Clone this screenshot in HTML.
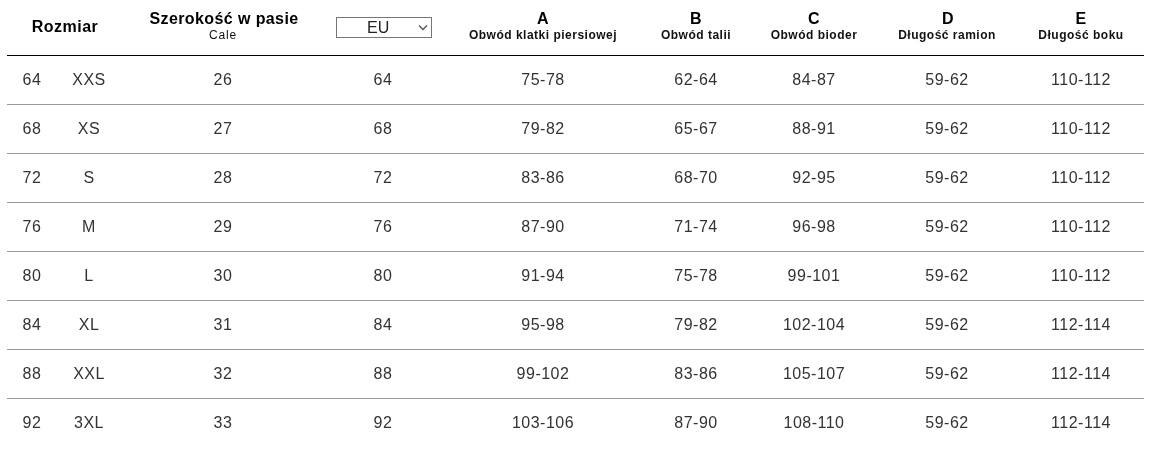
<!DOCTYPE html>
<html><head><meta charset="utf-8"><style>
html,body{margin:0;padding:0;background:#fff;width:1159px;height:452px;overflow:hidden;font-family:"Liberation Sans",sans-serif;}
#w{position:absolute;left:0;top:0;width:1159px;height:452px;will-change:transform;}
.c{position:absolute;width:200px;margin-left:-100px;text-align:center;white-space:nowrap;}
.v{font-size:16px;color:#333;line-height:18px;letter-spacing:0.5px;}
.hl{position:absolute;left:7px;width:1137px;height:1px;background:#999;}
.h{font-weight:bold;color:#000;}
.big{font-size:16px;line-height:18px;letter-spacing:0.5px;}
.sm{font-size:12px;line-height:14px;letter-spacing:0.5px;color:#111;}
.sel{position:absolute;left:336px;top:17px;width:94px;height:19px;border:1px solid #767676;font-size:16px;color:#222;}
</style></head><body><div id="w">

<div class="c h big" style="left:65px;top:18px">Rozmiar</div>
<div class="c h big" style="left:224px;top:10px;letter-spacing:0.4px">Szerokość w pasie</div>
<div class="c sm" style="left:223px;top:28px;letter-spacing:0.8px">Cale</div>
<div class="sel"><span style="position:absolute;left:30px;top:1px;line-height:18px">EU</span><svg style="position:absolute;left:81px;top:6px" width="10" height="7" viewBox="0 0 10 7"><path d="M1 1.5 L5 5.5 L9 1.5" fill="none" stroke="#555" stroke-width="1.4"/></svg></div>
<div class="c h big" style="left:543px;top:10px">A</div>
<div class="c h sm" style="left:543px;top:28px">Obwód klatki piersiowej</div>
<div class="c h big" style="left:696px;top:10px">B</div>
<div class="c h sm" style="left:696px;top:28px">Obwód talii</div>
<div class="c h big" style="left:814px;top:10px">C</div>
<div class="c h sm" style="left:814px;top:28px">Obwód bioder</div>
<div class="c h big" style="left:948px;top:10px">D</div>
<div class="c h sm" style="left:947px;top:28px">Długość ramion</div>
<div class="c h big" style="left:1081px;top:10px">E</div>
<div class="c h sm" style="left:1081px;top:28px">Długość boku</div>
<div class="hl" style="top:55px;background:#000"></div>
<div class="c v" style="left:32px;top:71px">64</div>
<div class="c v" style="left:89px;top:71px">XXS</div>
<div class="c v" style="left:223px;top:71px">26</div>
<div class="c v" style="left:383px;top:71px">64</div>
<div class="c v" style="left:543px;top:71px">75-78</div>
<div class="c v" style="left:696px;top:71px">62-64</div>
<div class="c v" style="left:814px;top:71px">84-87</div>
<div class="c v" style="left:947px;top:71px">59-62</div>
<div class="c v" style="left:1081px;top:71px">110-112</div>
<div class="hl" style="top:104px"></div>
<div class="c v" style="left:32px;top:120px">68</div>
<div class="c v" style="left:89px;top:120px">XS</div>
<div class="c v" style="left:223px;top:120px">27</div>
<div class="c v" style="left:383px;top:120px">68</div>
<div class="c v" style="left:543px;top:120px">79-82</div>
<div class="c v" style="left:696px;top:120px">65-67</div>
<div class="c v" style="left:814px;top:120px">88-91</div>
<div class="c v" style="left:947px;top:120px">59-62</div>
<div class="c v" style="left:1081px;top:120px">110-112</div>
<div class="hl" style="top:153px"></div>
<div class="c v" style="left:32px;top:169px">72</div>
<div class="c v" style="left:89px;top:169px">S</div>
<div class="c v" style="left:223px;top:169px">28</div>
<div class="c v" style="left:383px;top:169px">72</div>
<div class="c v" style="left:543px;top:169px">83-86</div>
<div class="c v" style="left:696px;top:169px">68-70</div>
<div class="c v" style="left:814px;top:169px">92-95</div>
<div class="c v" style="left:947px;top:169px">59-62</div>
<div class="c v" style="left:1081px;top:169px">110-112</div>
<div class="hl" style="top:202px"></div>
<div class="c v" style="left:32px;top:218px">76</div>
<div class="c v" style="left:89px;top:218px">M</div>
<div class="c v" style="left:223px;top:218px">29</div>
<div class="c v" style="left:383px;top:218px">76</div>
<div class="c v" style="left:543px;top:218px">87-90</div>
<div class="c v" style="left:696px;top:218px">71-74</div>
<div class="c v" style="left:814px;top:218px">96-98</div>
<div class="c v" style="left:947px;top:218px">59-62</div>
<div class="c v" style="left:1081px;top:218px">110-112</div>
<div class="hl" style="top:251px"></div>
<div class="c v" style="left:32px;top:267px">80</div>
<div class="c v" style="left:89px;top:267px">L</div>
<div class="c v" style="left:223px;top:267px">30</div>
<div class="c v" style="left:383px;top:267px">80</div>
<div class="c v" style="left:543px;top:267px">91-94</div>
<div class="c v" style="left:696px;top:267px">75-78</div>
<div class="c v" style="left:814px;top:267px">99-101</div>
<div class="c v" style="left:947px;top:267px">59-62</div>
<div class="c v" style="left:1081px;top:267px">110-112</div>
<div class="hl" style="top:300px"></div>
<div class="c v" style="left:32px;top:316px">84</div>
<div class="c v" style="left:89px;top:316px">XL</div>
<div class="c v" style="left:223px;top:316px">31</div>
<div class="c v" style="left:383px;top:316px">84</div>
<div class="c v" style="left:543px;top:316px">95-98</div>
<div class="c v" style="left:696px;top:316px">79-82</div>
<div class="c v" style="left:814px;top:316px">102-104</div>
<div class="c v" style="left:947px;top:316px">59-62</div>
<div class="c v" style="left:1081px;top:316px">112-114</div>
<div class="hl" style="top:349px"></div>
<div class="c v" style="left:32px;top:365px">88</div>
<div class="c v" style="left:89px;top:365px">XXL</div>
<div class="c v" style="left:223px;top:365px">32</div>
<div class="c v" style="left:383px;top:365px">88</div>
<div class="c v" style="left:543px;top:365px">99-102</div>
<div class="c v" style="left:696px;top:365px">83-86</div>
<div class="c v" style="left:814px;top:365px">105-107</div>
<div class="c v" style="left:947px;top:365px">59-62</div>
<div class="c v" style="left:1081px;top:365px">112-114</div>
<div class="hl" style="top:398px"></div>
<div class="c v" style="left:32px;top:414px">92</div>
<div class="c v" style="left:89px;top:414px">3XL</div>
<div class="c v" style="left:223px;top:414px">33</div>
<div class="c v" style="left:383px;top:414px">92</div>
<div class="c v" style="left:543px;top:414px">103-106</div>
<div class="c v" style="left:696px;top:414px">87-90</div>
<div class="c v" style="left:814px;top:414px">108-110</div>
<div class="c v" style="left:947px;top:414px">59-62</div>
<div class="c v" style="left:1081px;top:414px">112-114</div>
</div></body></html>
